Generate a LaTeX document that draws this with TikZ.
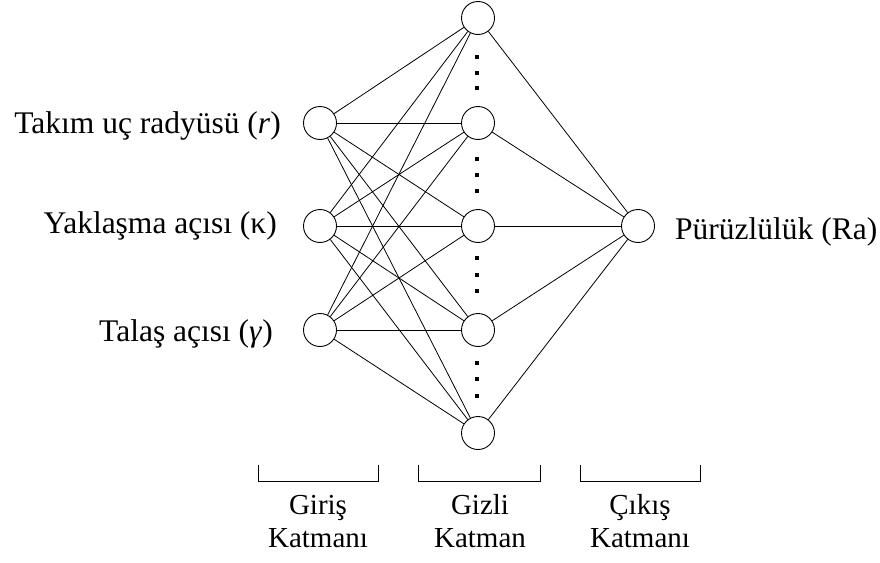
\documentclass[tikz,border=0pt]{standalone}
\usepackage{fontspec}
\setmainfont{Liberation Serif}
\begin{document}
\begin{tikzpicture}[x=1pt,y=-1pt,
  neuron/.style={circle,draw,line width=0.9pt,minimum size=33pt,inner sep=0pt},
  conn/.style={line width=0.8pt},
  lbl/.style={font=\fontsize{31.5}{33}\selectfont,inner sep=0pt},
  layer/.style={font={\fontsize{29}{32.5}\selectfont\lineskiplimit=-50pt\lineskip=0pt},inner sep=0pt,align=center,anchor=base},
  vdot/.style={fill,rectangle,inner sep=0pt,minimum size=3.2pt},
  brk/.style={line width=1pt}]
\useasboundingbox (0,0) rectangle (880,562);
% input nodes
\node[neuron] (i1) at (320,123) {};
\node[neuron] (i2) at (320,226) {};
\node[neuron] (i3) at (320,330) {};
% hidden nodes
\node[neuron] (h1) at (478,18) {};
\node[neuron] (h2) at (478,123) {};
\node[neuron] (h3) at (478,226) {};
\node[neuron] (h4) at (478,330) {};
\node[neuron] (h5) at (478,433) {};
% output
\node[neuron] (o) at (638,226) {};
% connections
\foreach \i in {i1,i2,i3}{
  \foreach \h in {h1,h2,h3,h4,h5}{
    \draw[conn] (\i) -- (\h);
  }
}
\foreach \h in {h1,h2,h3,h4,h5}{
  \draw[conn] (\h) -- (o);
}
% dots
\foreach \y [count=\k] in {57,73,88,159,175,191,258,275,291,363,379,396}{
  \node[vdot] (d\k) at (477,\y) {};
}
% labels
\node[lbl,anchor=base east] (li1) at (281,133) {Takım uç radyüsü (\textit{r})};
\node[lbl,anchor=base east] (li2) at (277,233) {Yaklaşma açısı (κ)};
\node[lbl,anchor=base east] (li3) at (273,341) {Talaş açısı (\textit{γ})};
\node[lbl,anchor=base west] (lo) at (675,239) {Pürüzlülük (Ra)};
% brackets
\draw[brk] (258,465) -- (258,481) -- (378,481) -- (378,465);
\draw[brk] (418,465) -- (418,481) -- (540,481) -- (540,465);
\draw[brk] (580,465) -- (580,481) -- (700,481) -- (700,465);
% layer labels
\node[layer] (g) at (318,547) {Giriş\\Katmanı};
\node[layer] (z) at (480,547) {Gizli\\Katman};
\node[layer] (c) at (640,547) {Çıkış\\Katmanı};
\end{tikzpicture}
\end{document}
